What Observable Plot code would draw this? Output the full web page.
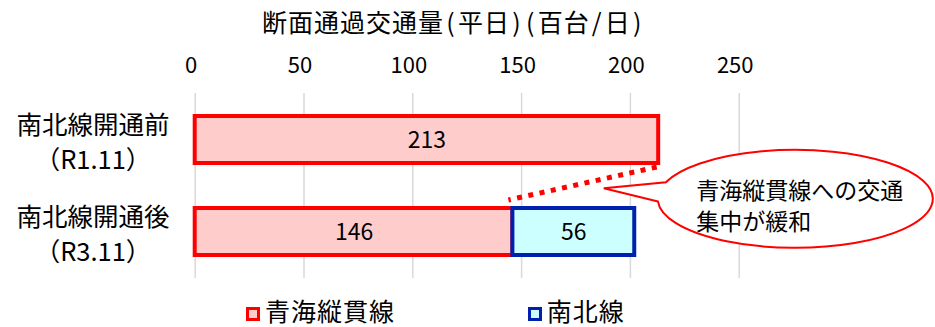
<!DOCTYPE html>
<html>
<head>
<meta charset="utf-8">
<script src="https://cdn.jsdelivr.net/npm/d3@7"></script>
<script src="https://cdn.jsdelivr.net/npm/@observablehq/plot@0.6"></script>
<style>
  html, body { margin: 0; padding: 0; background: #fff; }
  #chart { position: relative; width: 935px; height: 327px; overflow: hidden;
           font-family: "Noto Sans CJK JP", "Noto Sans", sans-serif; color: #000; }
  #title { position: absolute; left: 262px; top: 0; height: 42px; line-height: 42px;
           font-size: 25px; letter-spacing: 1px; white-space: nowrap; }
  #title .p { margin: 0 2.2px; }
  #plot { position: absolute; left: 0; top: 42px; }
  .legend-item { position: absolute; top: 295px; height: 31px; line-height: 31px;
                 font-size: 25px; letter-spacing: 1px; white-space: nowrap; }
  .swatch { position: absolute; top: 12px; width: 8px; height: 8px; border-width: 3.5px; border-style: solid; }
  .legend-item span.label { position: absolute; left: 19px; top: 0; }
</style>
</head>
<body>
<div id="chart">
  <div id="title"></div>
  <div id="plot"></div>
  <div id="legend"></div>
</div>
<script>
// Cross-section traffic volume on weekdays (hundreds of vehicles per day)
const title = "断面通過交通量(平日)(百台/日)";
const periods = ["南北線開通前\n（R1.11）", "南北線開通後\n（R3.11）"];
const routes = ["青海縦貫線", "南北線"];
const aomiVolumes = [213, 146];
const nanbokuVolumes = [null, 56];
const xTicks = [0, 50, 100, 150, 200, 250];
const routeFills = ["#FFCCCC", "#CCFFFF"];
const routeStrokes = ["#FF0000", "#0020B0"];
const noteLines = ["青海縦貫線への交通", "集中が緩和"];

const font = "'Noto Sans CJK JP', 'Noto Sans', sans-serif";

// Title: half-width punctuation gets a little extra room
const titleEl = document.getElementById("title");
for (const ch of title) {
  const s = document.createElement("span");
  if ("()/".includes(ch)) s.className = "p";
  s.textContent = ch;
  titleEl.append(s);
}

const rows = periods.flatMap((period, i) => [
  {period, route: routes[0], value: aomiVolumes[i]},
  {period, route: routes[1], value: nanbokuVolumes[i]}
]).filter(d => d.value != null);

const fillOf = d => routeFills[routes.indexOf(d.route)];
const strokeOf = d => routeStrokes[routes.indexOf(d.route)];

// Speech-bubble annotation with a dotted connector between the two 青海縦貫線 bar ends
function callout(index, scales) {
  const {x, y} = scales;
  const bw = typeof y.bandwidth === "function" ? y.bandwidth() : y.bandwidth;
  const y0 = y(periods[0]);
  const y1 = y(periods[1]);
  const step = y1 - y0;
  const mid0 = y0 + bw / 2;
  const g = d3.create("svg:g");

  g.append("line")
    .attr("x1", x(aomiVolumes[0]) - 1.5).attr("y1", y0 + bw + 4)
    .attr("x2", x(aomiVolumes[1]) - 4).attr("y2", y1 - 8)
    .attr("stroke", "#FF0000").attr("stroke-width", 5)
    .attr("stroke-dasharray", "5 6.5");

  const cx = x(276), cy = mid0 + step * 0.645, rx = 137.5, ry = 49;
  const tipX = x(188), tipY = mid0 + step * 0.53;
  const pt = deg => {
    const t = deg * Math.PI / 180;
    return [cx + rx * Math.cos(t), cy + ry * Math.sin(t)];
  };
  const [ax, ay] = pt(199.8);
  const [bx, by] = pt(176.8);
  g.append("path")
    .attr("d", `M${bx},${by}L${tipX},${tipY}L${ax},${ay}A${rx},${ry} 0 1 1 ${bx},${by}Z`)
    .attr("fill", "#fff").attr("stroke", "#FF0000").attr("stroke-width", 2)
    .attr("stroke-linejoin", "miter");

  const text = g.append("text")
    .attr("font-family", font).attr("font-size", 23).attr("fill", "#000")
    .attr("text-anchor", "start");
  noteLines.forEach((line, i) => {
    text.append("tspan")
      .attr("x", cx - 99)
      .attr("y", cy - 9 + i * 31 + 8.7)
      .text(line);
  });
  return g.node();
}

const chart = Plot.plot({
  width: 935,
  height: 254,
  marginTop: 51,
  marginBottom: 18,
  marginLeft: 194.7,
  marginRight: 196.3,
  style: {fontFamily: font, background: "transparent"},
  x: {domain: [0, 250], axis: null},
  y: {domain: periods, paddingInner: 0.49, paddingOuter: 0.245, axis: null},
  color: {type: "identity"},
  marks: [
    Plot.gridX(xTicks, {stroke: "#D9D9D9", strokeOpacity: 1, strokeWidth: 1.5}),
    Plot.axisX(xTicks, {anchor: "top", tickSize: 0, tickPadding: 21, fontSize: 22, dx: -4, label: null, fill: "#000"}),
    Plot.barX(rows, Plot.stackX({
      x: "value", y: "period", z: "route", order: routes,
      fill: fillOf, stroke: strokeOf, strokeWidth: 4
    })),
    Plot.text(rows, Plot.stackX({
      x: "value", y: "period", z: "route", order: routes,
      text: d => String(d.value), fontSize: 23, fill: "#000", dy: 1
    })),
    Plot.text(periods, {
      y: d => d, text: d => d, frameAnchor: "left", dx: -102.2,
      textAnchor: "middle", fontSize: 25.5, lineHeight: 1.36, dy: 0.5, fill: "#000"
    }),
    callout
  ]
});
document.getElementById("plot").append(chart);

// Legend below the plot
const legend = document.getElementById("legend");
const legendLeft = [246, 527.7];
routes.forEach((route, i) => {
  const item = document.createElement("div");
  item.className = "legend-item";
  item.style.left = legendLeft[i] + "px";
  const sw = document.createElement("span");
  sw.className = "swatch";
  sw.style.left = "0px";
  sw.style.background = routeFills[i];
  sw.style.borderColor = routeStrokes[i];
  const label = document.createElement("span");
  label.className = "label";
  label.textContent = route;
  item.append(sw, label);
  legend.append(item);
});
</script>
</body>
</html>
